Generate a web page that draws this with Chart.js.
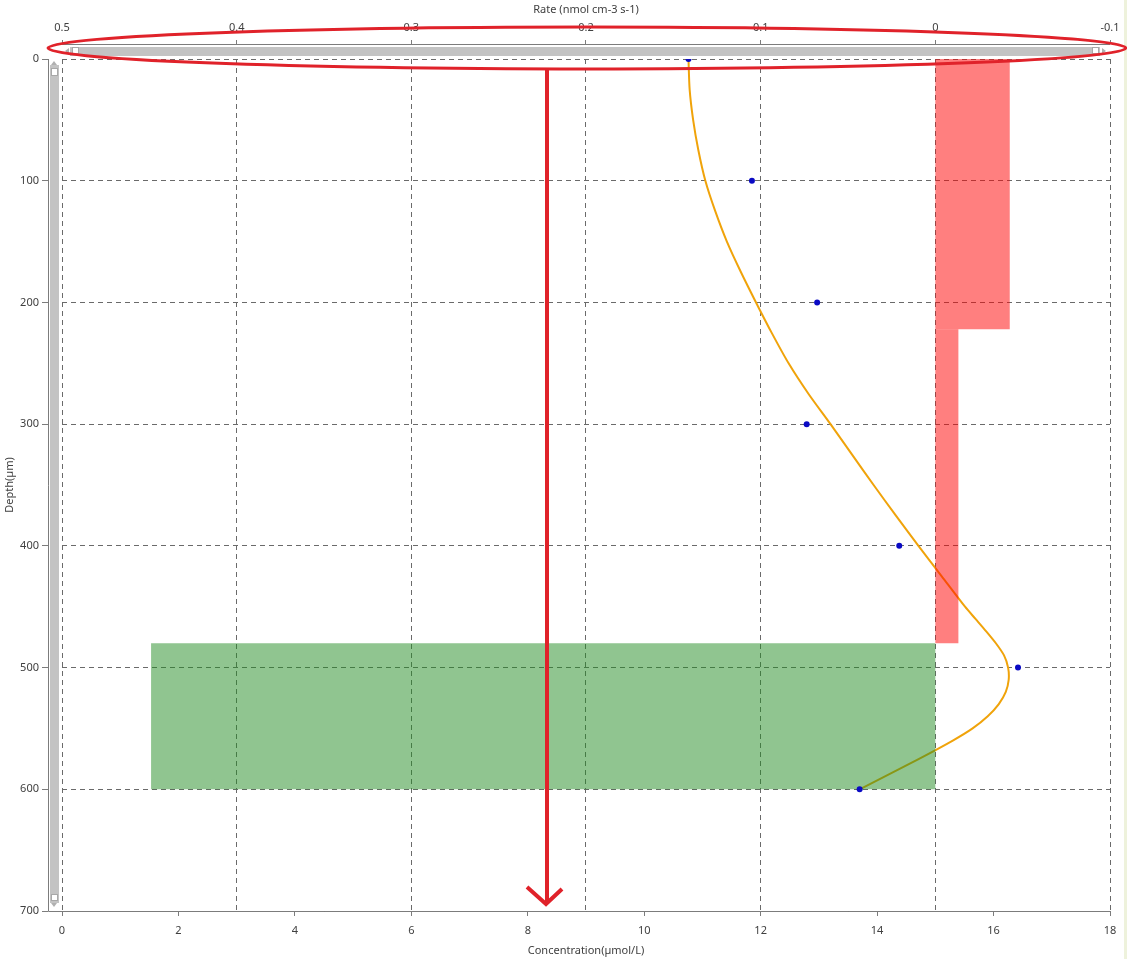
<!DOCTYPE html>
<html><head><meta charset="utf-8">
<script src="https://cdn.jsdelivr.net/npm/chart.js@4/dist/chart.umd.min.js"></script>
<style>html,body{margin:0;padding:0;background:#fff;overflow:hidden}#wrap{width:1127px;height:959px;position:relative}</style>
</head><body><div id="wrap"><canvas id="c" width="1127" height="959"></canvas></div>
<script>
// ---- data ----
const measuredDepth = [0, 100, 200, 300, 400, 500, 600];
const measuredConc = [10.76, 11.85, 12.97, 12.79, 14.38, 16.42, 13.70];
const fitDepth = [0, 25, 50, 75, 100, 125, 150, 175, 200, 225, 250, 275, 300, 325, 350, 375, 400, 425, 450, 460, 470, 480, 490, 500, 510, 520, 530, 540, 550, 560, 575, 600];
const fitConc = [10.76, 10.78, 10.84, 10.93, 11.05, 11.22, 11.42, 11.66, 11.92, 12.19, 12.48, 12.82, 13.20, 13.57, 13.94, 14.32, 14.71, 15.11, 15.51, 15.69, 15.87, 16.04, 16.18, 16.25, 16.26, 16.21, 16.09, 15.90, 15.64, 15.30, 14.72, 13.70];
const zoneTop = [0, 222, 480];
const zoneBottom = [222, 480, 600];
const zoneRate = [-0.0426, -0.0132, 0.449];
const zoneColor = ['rgba(255,0,0,0.5)', 'rgba(255,0,0,0.5)', 'rgba(34,139,34,0.5)'];
const concTicks = [0, 2, 4, 6, 8, 10, 12, 14, 16, 18];
const rateTicks = [0.5, 0.4, 0.3, 0.2, 0.1, 0, -0.1];
const depthTicks = [0, 100, 200, 300, 400, 500, 600, 700];

const FONT = {family: "'Noto Sans', 'Open Sans', sans-serif", size: 11};
const TXT = '#404040';
const AXIS = '#7c7c7c';
const GRID = '#6a6a6a';

const zoneSets = zoneRate.map((r, i) => ({
  data: [
    {x: 0, y: zoneTop[i]}, {x: r, y: zoneTop[i]},
    {x: r, y: zoneBottom[i]}, {x: 0, y: zoneBottom[i]}
  ],
  xAxisID: 'x2', yAxisID: 'y', showLine: true, fill: 'shape',
  backgroundColor: zoneColor[i], borderWidth: 0, pointRadius: 0, tension: 0, order: 1
}));

const decor = {
  id: 'decor',
  beforeDraw(chart) {
    const ctx = chart.ctx;
    ctx.save(); ctx.fillStyle = '#fff'; ctx.fillRect(0, 0, chart.width, chart.height);
    ctx.fillStyle = '#eef2dc'; ctx.fillRect(1124, 0, 3, chart.height);
    ctx.restore();
  },
  afterDraw(chart) {
    const ctx = chart.ctx, a = chart.chartArea;
    ctx.save();
    // offset axis lines
    ctx.strokeStyle = AXIS; ctx.lineWidth = 1;
    ctx.beginPath();
    ctx.moveTo(a.left, a.top - 14.5); ctx.lineTo(a.right, a.top - 14.5);
    ctx.moveTo(a.left - 13.5, a.top); ctx.lineTo(a.left - 13.5, a.bottom + 0.5);
    ctx.lineTo(a.left, a.bottom + 0.5);
    ctx.stroke();
    // scrollbars
    ctx.fillStyle = '#c3c3c3';
    ctx.fillRect(a.left + 8, a.top - 12, a.right - a.left - 18, 9);
    ctx.fillRect(a.left - 12, a.top + 6, 9, a.bottom - a.top - 14);
    ctx.fillStyle = '#fff'; ctx.strokeStyle = '#a8a8a8';
    ctx.fillRect(a.left + 10.5, a.top - 11.5, 6, 6); ctx.strokeRect(a.left + 10.5, a.top - 11.5, 6, 6);
    ctx.fillRect(a.right - 17.5, a.top - 11.5, 6, 6); ctx.strokeRect(a.right - 17.5, a.top - 11.5, 6, 6);
    ctx.fillRect(a.left - 10.5, a.top + 9.5, 6, 7); ctx.strokeRect(a.left - 10.5, a.top + 9.5, 6, 7);
    ctx.fillRect(a.left - 10.5, a.bottom - 16.5, 6, 6); ctx.strokeRect(a.left - 10.5, a.bottom - 16.5, 6, 6);
    ctx.fillStyle = '#b0b0b0';
    ctx.beginPath();
    ctx.moveTo(a.left + 3, a.top - 8); ctx.lineTo(a.left + 7, a.top - 11); ctx.lineTo(a.left + 7, a.top - 5); ctx.closePath();
    ctx.moveTo(a.right - 4, a.top - 8); ctx.lineTo(a.right - 8, a.top - 11); ctx.lineTo(a.right - 8, a.top - 5); ctx.closePath();
    ctx.moveTo(a.left - 8, a.top + 2); ctx.lineTo(a.left - 11, a.top + 6); ctx.lineTo(a.left - 5, a.top + 6); ctx.closePath();
    ctx.moveTo(a.left - 8, a.bottom - 4); ctx.lineTo(a.left - 11, a.bottom - 8); ctx.lineTo(a.left - 5, a.bottom - 8); ctx.closePath();
    ctx.fill();
    // red annotation: ellipse and arrow
    ctx.strokeStyle = '#e0222a'; ctx.lineWidth = 3;
    ctx.beginPath(); ctx.ellipse(587, 48, 539, 21, 0, 0, Math.PI * 2); ctx.stroke();
    ctx.lineWidth = 4; ctx.lineJoin = 'miter';
    ctx.beginPath(); ctx.moveTo(547, 68); ctx.lineTo(547, 902); ctx.stroke();
    ctx.beginPath(); ctx.moveTo(527, 887); ctx.lineTo(546, 904); ctx.lineTo(562, 889); ctx.stroke();
    ctx.restore();
  }
};

new Chart(document.getElementById('c'), {
  type: 'scatter',
  data: {
    datasets: [
      {
        data: measuredDepth.map((d, i) => ({x: measuredConc[i], y: d})),
        xAxisID: 'x', yAxisID: 'y', pointRadius: 3, pointBackgroundColor: '#0a0ac4',
        pointBorderWidth: 0, showLine: false, order: 0
      },
      ...zoneSets,
      {
        data: fitDepth.map((d, i) => ({x: fitConc[i], y: d})),
        xAxisID: 'x', yAxisID: 'y', showLine: true, borderColor: '#f0a30a', borderWidth: 2,
        pointRadius: 0, tension: 0.25, fill: false, order: 2
      }
    ]
  },
  options: {
    responsive: false, animation: false, devicePixelRatio: 1,
    layout: {padding: {left: 0, top: 0, right: 17, bottom: 0}},
    plugins: {legend: {display: false}, tooltip: {enabled: false}},
    scales: {
      x: {
        type: 'linear', position: 'bottom', min: 0, max: 18,
        afterBuildTicks: s => { s.ticks = concTicks.map(v => ({value: v})); },
        afterFit: s => { s.height = 48; },
        grid: {drawOnChartArea: false, drawTicks: true, tickLength: 5, tickColor: AXIS},
        border: {display: true, color: AXIS, width: 1},
        ticks: {color: TXT, font: FONT, padding: 8, maxRotation: 0, autoSkip: false},
        title: {display: true, text: 'Concentration(µmol/L)', color: TXT, font: FONT, padding: {top: 0, bottom: 2}}
      },
      x2: {
        type: 'linear', position: 'top', min: -0.1, max: 0.5, reverse: true,
        afterBuildTicks: s => { s.ticks = rateTicks.map(v => ({value: v})); },
        afterFit: s => { s.height = 59; },
        grid: {drawOnChartArea: true, color: GRID, drawTicks: true, tickLength: 19, tickColor: AXIS, tickBorderDash: [4, 40]},
        border: {display: false, dash: [5, 4]},
        ticks: {color: TXT, font: FONT, padding: 6, maxRotation: 0, autoSkip: false,
          callback: v => String(Math.round(v * 10) / 10)},
        title: {display: true, text: 'Rate (nmol cm-3 s-1)', color: TXT, font: FONT, padding: {top: 3, bottom: 0}}
      },
      y: {
        type: 'linear', position: 'left', min: 0, max: 700, reverse: true,
        afterBuildTicks: s => { s.ticks = depthTicks.map(v => ({value: v})); },
        afterFit: s => { s.width = 62; },
        grid: {drawOnChartArea: true, color: GRID, drawTicks: true, tickLength: 20, tickColor: AXIS, tickBorderDash: [6, 40]},
        border: {display: false, dash: [5, 4]},
        ticks: {color: TXT, font: FONT, padding: 3, autoSkip: false},
        title: {display: true, text: 'Depth(µm)', color: TXT, font: FONT, padding: {top: 3, bottom: 0}}
      }
    }
  },
  plugins: [decor]
});
</script>
</body></html>
